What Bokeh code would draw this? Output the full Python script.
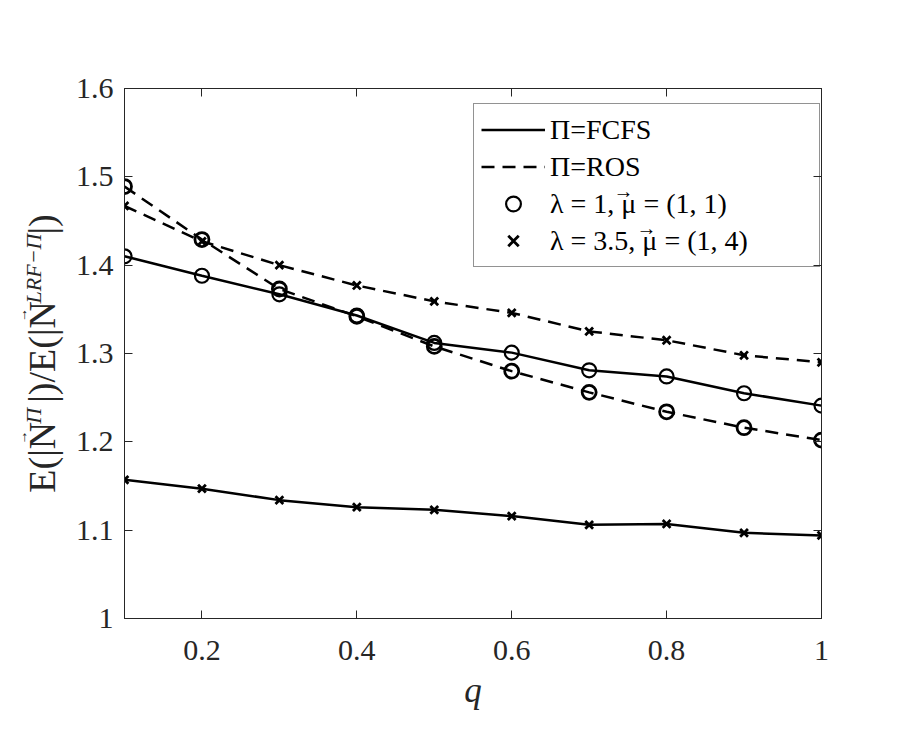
import math
from bokeh.plotting import figure
from bokeh.models import (Range1d, FixedTicker, LinearAxis, Legend, LegendItem, Label,
                          ColumnDataSource, CustomJSTickFormatter)
from bokeh.embed import file_html
from bokeh.resources import INLINE

# ---- data ----
q = [0.1, 0.2, 0.3, 0.4, 0.5, 0.6, 0.7, 0.8, 0.9, 1.0]
fcfs_l1 = [1.410, 1.388, 1.367, 1.343, 1.312, 1.301, 1.281, 1.274, 1.255, 1.241]
ros_l1 = [1.489, 1.429, 1.373, 1.342, 1.308, 1.280, 1.256, 1.234, 1.216, 1.202]
fcfs_l35 = [1.157, 1.147, 1.134, 1.126, 1.123, 1.116, 1.106, 1.107, 1.097, 1.094]
ros_l35 = [1.467, 1.427, 1.400, 1.377, 1.359, 1.346, 1.325, 1.315, 1.298, 1.290]

x_ticks = [0.2, 0.4, 0.6, 0.8, 1.0]
x_tick_labels = ["0.2", "0.4", "0.6", "0.8", "1"]
y_ticks = [1.0, 1.1, 1.2, 1.3, 1.4, 1.5, 1.6]
y_tick_labels = ["1", "1.1", "1.2", "1.3", "1.4", "1.5", "1.6"]

legend_labels = ["\u03a0=FCFS", "\u03a0=ROS",
                 "\u03bb = 1, \u03bc = (1, 1)",
                 "\u03bb = 3.5, \u03bc = (1, 4)"]
x_label = "q"

NB = "\u00a0"
# y label: main line, superscript line, vector-arrow line (padded so they line up)
y_label_main = "E(|N" + NB * 2 + "|)/E(|N" + NB * 7 + "|)"
y_label_sup = NB * 13 + "\u03a0" + NB * 19 + "LRF\u2212\u03a0" + NB * 4
y_label_arrows = NB * 14 + "\u2192" + NB * 31 + "\u2192" + NB * 27

X0, X1 = 0.1, 1.0
Y0, Y1 = 1.0, 1.6

FONT = "Liberation Serif"
AX = "#262626"

# ---- layout (pixels) ----
W, H = 905, 745
BL, BR, BT, BB = 124, 84, 88, 127
FW = W - BL - BR
FH = H - BT - BB

def px2x(px):
    return X0 + (px - BL) / FW * (X1 - X0)

def py2y(py):
    return Y0 + (BT + FH - py) / FH * (Y1 - Y0)

src = ColumnDataSource(dict(q=q, fcfs_l1=fcfs_l1, ros_l1=ros_l1,
                            fcfs_l35=fcfs_l35, ros_l35=ros_l35))

p = figure(width=W, height=H, x_range=Range1d(X0, X1), y_range=Range1d(Y0, Y1),
           output_backend="svg", toolbar_location=None,
           min_border_left=BL, min_border_right=BR, min_border_top=BT, min_border_bottom=BB)
p.grid.visible = False
p.outline_line_color = AX
p.outline_line_width = 1
p.background_fill_color = "white"
p.border_fill_color = "white"

def style_axis(ax, ticks, labels, show_labels=True):
    ax.ticker = FixedTicker(ticks=ticks)
    ax.major_tick_in = 8
    ax.major_tick_out = 0
    ax.minor_tick_line_color = None
    ax.axis_line_color = AX
    ax.major_tick_line_color = AX
    ax.major_label_text_font = FONT
    ax.major_label_text_color = AX
    if show_labels:
        ax.major_label_overrides = {t: l for t, l in zip(ticks, labels)}
        ax.major_label_text_font_size = "30px"
    else:
        ax.formatter = CustomJSTickFormatter(code="return ''")
        ax.major_label_standoff = 0

style_axis(p.xaxis[0], x_ticks, x_tick_labels)
style_axis(p.yaxis[0], y_ticks, y_tick_labels)
p.xaxis[0].major_label_standoff = 22
p.yaxis[0].major_label_standoff = 11
p.xaxis[0].axis_label = x_label
p.xaxis[0].axis_label_text_font = FONT
p.xaxis[0].axis_label_text_font_style = "italic"
p.xaxis[0].axis_label_text_font_size = "35px"
p.xaxis[0].axis_label_text_color = AX
p.xaxis[0].axis_label_standoff = 8

yax = p.yaxis[0]
yax.axis_label = y_label_main
yax.axis_label_text_font = FONT
yax.axis_label_text_font_style = "normal"
yax.axis_label_text_font_size = "38px"
yax.axis_label_text_color = AX
yax.axis_label_standoff = 10

def label_only_axis(text, size, style, standoff):
    a = LinearAxis(ticker=FixedTicker(ticks=[]), axis_line_color=None,
                   major_tick_line_color=None, minor_tick_line_color=None,
                   major_label_standoff=0, major_tick_in=0, major_tick_out=0,
                   formatter=CustomJSTickFormatter(code="return ''"),
                   axis_label=text, axis_label_text_font=FONT,
                   axis_label_text_font_size=size, axis_label_text_font_style=style,
                   axis_label_text_color=AX, axis_label_standoff=standoff)
    p.add_layout(a, "left")
    return a

label_only_axis(y_label_sup, "22px", "italic", -28)
label_only_axis(y_label_arrows, "14px", "normal", -12)

rax = LinearAxis()
style_axis(rax, y_ticks, y_tick_labels, show_labels=False)
p.add_layout(rax, "right")
tax = LinearAxis()
style_axis(tax, x_ticks, x_tick_labels, show_labels=False)
p.add_layout(tax, "above")

LW = 2.5
DASH = "13 8"
l_fcfs1 = p.line("q", "fcfs_l1", source=src, line_color="black", line_width=LW)
l_ros1 = p.line("q", "ros_l1", source=src, line_color="black", line_width=LW, line_dash=DASH)
p.line("q", "fcfs_l35", source=src, line_color="black", line_width=LW)
p.line("q", "ros_l35", source=src, line_color="black", line_width=LW, line_dash=DASH)

c1 = p.scatter("q", "fcfs_l1", source=src, marker="circle", size=14, fill_color=None,
               line_color="black", line_width=2.2)
p.scatter("q", "ros_l1", source=src, marker="circle", size=14, fill_color=None,
          line_color="black", line_width=2.8)
x1 = p.scatter("q", "fcfs_l35", source=src, marker="x", size=11, line_color="black", line_width=2.8)
p.scatter("q", "ros_l35", source=src, marker="x", size=11, line_color="black", line_width=2.8)

legend = Legend(items=[LegendItem(label=legend_labels[0], renderers=[l_fcfs1]),
                       LegendItem(label=legend_labels[1], renderers=[l_ros1]),
                       LegendItem(label=legend_labels[2], renderers=[c1]),
                       LegendItem(label=legend_labels[3], renderers=[x1])],
                location=(349, 351), label_text_font=FONT, label_text_font_size="28px",
                label_text_color="black",
                glyph_width=64, glyph_height=37, label_height=37, label_width=262,
                label_standoff=5, padding=7, spacing=0, margin=0,
                border_line_color=AX, border_line_width=1, background_fill_color="white",
                background_fill_alpha=0.0)
p.add_layout(legend)

# vector arrows over mu in the legend
for ax_px, ay_px in [(623, 190), (646, 227)]:
    p.add_layout(Label(x=px2x(ax_px), y=py2y(ay_px), text="\u2192", text_align="center",
                       text_baseline="middle", text_font=FONT, text_font_size="20px",
                       text_color="black", level="overlay"))

open("out.html", "w").write(file_html(p, INLINE))
